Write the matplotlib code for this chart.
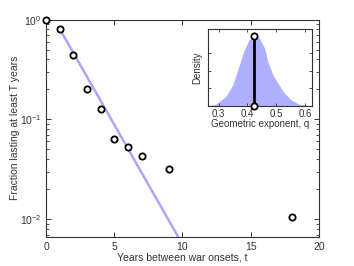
import numpy as np
import matplotlib
matplotlib.use("Agg")
import matplotlib.pyplot as plt

plt.rcParams['font.family'] = ['Liberation Sans', 'DejaVu Sans']
plt.rcParams['mathtext.fontset'] = 'custom'
plt.rcParams['mathtext.rm'] = 'Liberation Sans'
plt.rcParams['mathtext.it'] = 'Liberation Sans:italic'

# Empirical data: years between war onsets vs fraction lasting at least T years
t_vals = [0, 1, 2, 3, 4, 5, 6, 7, 9, 18]
frac_vals = [1.0, 0.81, 0.447, 0.203, 0.128, 0.064, 0.053, 0.0427, 0.0319, 0.0106]

# Geometric fit
q_fit = 0.425
fit_scale = 0.81
fit_t = [1, 10]

# Posterior density of geometric exponent q
q_grid = [0.264, 0.2906, 0.325, 0.349, 0.372, 0.389, 0.406, 0.424, 0.441,
          0.459, 0.470, 0.488, 0.505, 0.528, 0.551, 0.580, 0.615, 0.624]
dens = [0.05, 0.19, 1.07, 2.4, 4.69, 6.4, 7.54, 7.9, 7.73,
        6.59, 5.07, 3.54, 2.59, 1.45, 0.69, 0.19, 0.04, 0.02]

fig = plt.figure(figsize=(3.54, 2.66), dpi=100)
ax = fig.add_axes([0.130, 0.110, 0.771, 0.816])

tt = np.linspace(fit_t[0], fit_t[1], 50)
ax.plot(tt, fit_scale * (1 - q_fit) ** (tt - 1), color='#a8a8f8', lw=1.8, zorder=2)
ax.plot(t_vals, frac_vals, 'o', mfc='white', mec='black', mew=1.3, ms=4.5,
        zorder=3, clip_on=False)

ax.set_yscale('log')
ax.set_xlim(0, 20)
ax.set_ylim(0.00665, 1.0)
ax.set_xticks([0, 5, 10, 15, 20])
ax.tick_params(which='both', direction='in', top=True, right=True,
               labelsize=7.5, colors='#333333', labelcolor='#333333')
ax.tick_params(which='major', length=3.5, width=0.7)
ax.tick_params(which='minor', length=2, width=0.6)
for s in ax.spines.values():
    s.set_linewidth(0.8)
    s.set_color('#333333')
ax.set_xlabel('Years between war onsets, t', fontsize=7.5, labelpad=1, color='#333333')
ax.set_ylabel('Fraction lasting at least T years', fontsize=7.5, labelpad=0, color='#333333')

# Inset
ins = fig.add_axes([0.588, 0.6015, 0.294, 0.288])
ins.fill_between(q_grid, dens, color='#afafff', lw=0)
peak_i = int(np.argmax(dens))
ins.plot([q_grid[peak_i], q_grid[peak_i]], [0, dens[peak_i]], '-o', color='black',
         lw=2, mfc='white', mec='black', mew=1.3, ms=4.5, clip_on=False, zorder=3)
ins.set_xlim(0.264, 0.624)
ins.set_ylim(0, 8.7)
ins.set_xticks([0.3, 0.4, 0.5, 0.6])
ins.set_xticklabels(['0.3', '0.4', '0.5', '0.6'])
ins.set_yticks([2, 4, 6])
ins.set_yticklabels([])
ins.tick_params(direction='in', top=True, right=True, length=2.5, width=0.6,
                labelsize=7, pad=2, colors='#333333', labelcolor='#333333')
for s in ins.spines.values():
    s.set_linewidth(0.8)
    s.set_color('#333333')
ins.set_xlabel('Geometric exponent, q', fontsize=7, labelpad=0.5, color='#333333')
ins.set_ylabel('Density', fontsize=7, labelpad=2, color='#333333')

fig.savefig('out.png', dpi=100)
